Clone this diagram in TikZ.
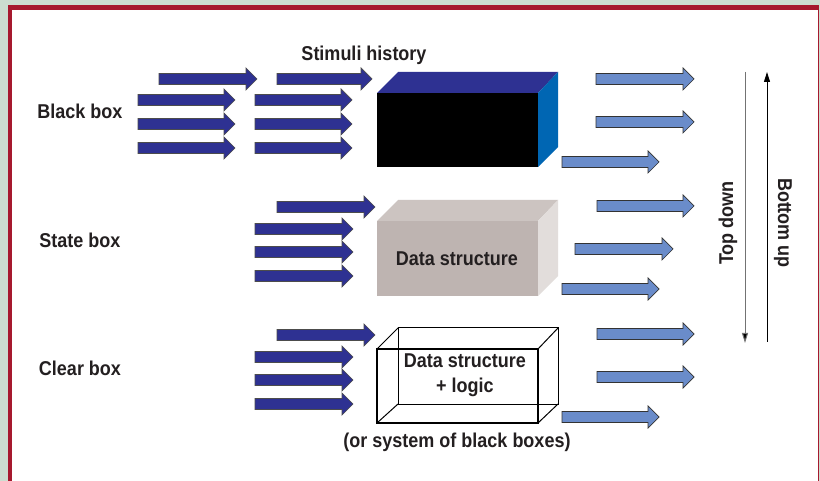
\documentclass[tikz,border=0pt]{standalone}
\usepackage{fontspec}
\setmainfont{Liberation Sans}[FakeStretch=0.9]
\usetikzlibrary{arrows.meta}
\definecolor{bggreen}{HTML}{CCDDD0}
\definecolor{framered}{HTML}{A6192E}
\definecolor{darkarr}{HTML}{2E3192}
\definecolor{lightarr}{HTML}{6A8CCA}
\definecolor{sideblue}{HTML}{0066B3}
\definecolor{txt}{HTML}{231F20}
\definecolor{sfront}{HTML}{BEB4B1}
\definecolor{stop}{HTML}{CCC4C1}
\definecolor{sside}{HTML}{E2DDDB}
\newcommand\farr[4]{%
  \path[#4] (#1,#3-5.5) -- (#2-11,#3-5.5) -- (#2-11,#3-11) -- (#2,#3) -- (#2-11,#3+11) -- (#2-11,#3+5.5) -- (#1,#3+5.5) -- cycle;}
\tikzset{
  inarr/.style={fill=darkarr, draw=black!70, line width=0.7pt, line join=miter},
  outarr/.style={fill=lightarr, draw=black!80, line width=0.7pt, line join=miter},
  lbl/.style={font=\bfseries\fontsize{20}{22}\selectfont, text=txt, inner sep=0pt},
}
\begin{document}
\begin{tikzpicture}[x=1pt,y=-1pt]
\useasboundingbox (0,0) rectangle (820,481);
% frame
\fill[bggreen] (0,0) rectangle (820,481);
\fill[framered] (8,5) rectangle (819,481);
\fill[white] (12,10) rectangle (817.5,481);

% labels
\node[lbl] (bb) at (80,111) {Black box};
\node[lbl] (sb) at (80,240) {State box};
\node[lbl] (cb) at (80,368) {Clear box};
\node[lbl] (sh) at (364,55) {Stimuli history};

% ---- black box row inputs
\farr{159}{257}{79}{inarr}
\farr{277}{372}{79}{inarr}
\foreach \y in {100,124,148}{
  \farr{138}{235}{\y}{inarr}
  \farr{255}{352}{\y}{inarr}
}
% black box
\fill[darkarr] (377,93) -- (398,72) -- (558,72) -- (538,93) -- cycle;
\fill[sideblue] (538,93) -- (558,72) -- (558,147) -- (538,167) -- cycle;
\fill[black] (377,93) rectangle (538,167);
% outputs
\farr{596}{694}{79}{outarr}
\farr{596}{694}{122}{outarr}
\farr{562}{659}{162}{outarr}

% ---- state box row
\farr{277}{375}{207}{inarr}
\foreach \y in {229,252,276}{
  \farr{255}{353}{\y}{inarr}
}
\fill[stop] (377,221) -- (398,200) -- (558,200) -- (538,221) -- cycle;
\fill[sside] (538,221) -- (558,200) -- (558,276) -- (538,296) -- cycle;
\fill[sfront] (377,221) rectangle (538,296);
\node[lbl] (ds1) at (457,259) {Data structure};
\farr{597}{694}{206}{outarr}
\farr{575}{673}{249}{outarr}
\farr{562}{659}{289}{outarr}

% ---- clear box row
\farr{277}{375}{335}{inarr}
\foreach \y in {357,380,404}{
  \farr{255}{353}{\y}{inarr}
}
\draw[black, line width=1pt] (398,328) rectangle (558,404);
\draw[black, line width=1pt] (377,349) -- (398,328) (538,349) -- (558,328)
  (538,423) -- (558,404) (377,423) -- (398,404);
\draw[black, line width=1.8pt] (377,349) rectangle (538,423);
\node[lbl, align=center, font=\bfseries\fontsize{20}{25}\selectfont] (ds2) at (465,375.5) {Data structure\\+ logic};
\node[lbl] (osb) at (457,442) {(or system of black boxes)};
\farr{597}{694}{334}{outarr}
\farr{597}{694}{377}{outarr}
\farr{562}{659}{417}{outarr}

% ---- top down / bottom up
\coordinate (tdA) at (745,72);
\coordinate (tdB) at (745,343);
\coordinate (buA) at (767,342);
\coordinate (buB) at (767,72);
\draw[black!55, line width=1pt, -{Triangle[width=6pt,length=10pt,fill=black]}] (tdA) -- (tdB);
\draw[black, line width=1pt, -{Triangle[width=6pt,length=10pt]}] (buA) -- (buB);
\node[lbl, rotate=90] (td) at (728,223) {Top down};
\node[lbl, rotate=-90] (bu) at (783,223) {Bottom up};
\end{tikzpicture}
\end{document}
